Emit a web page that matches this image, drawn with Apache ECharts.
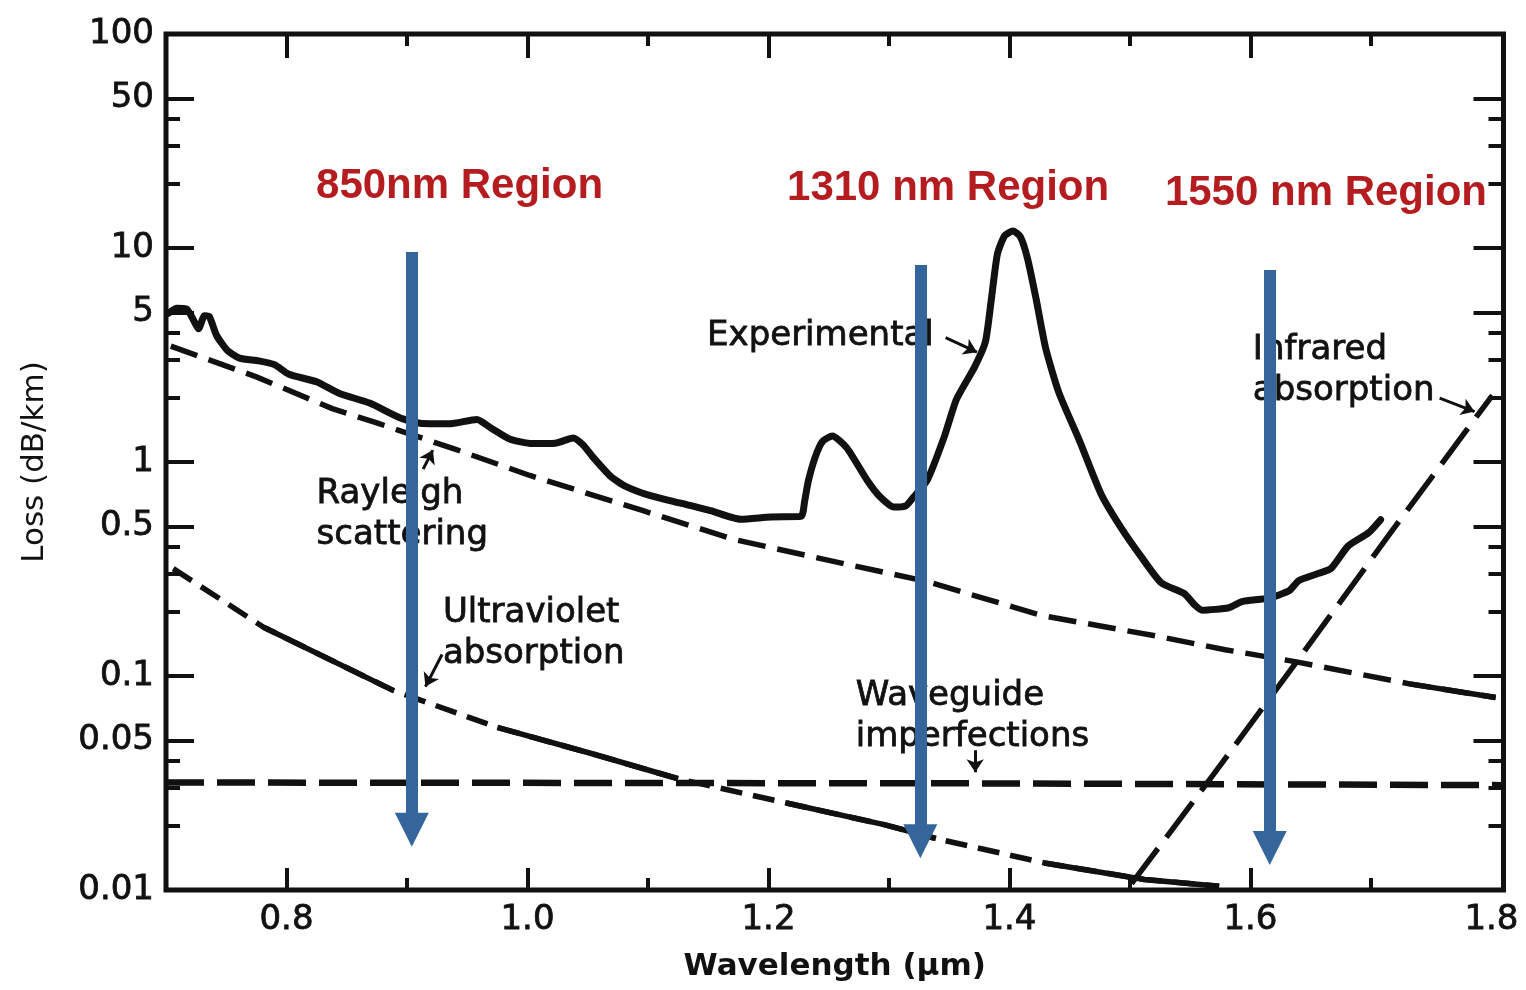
<!DOCTYPE html>
<html>
<head>
<meta charset="utf-8">
<script src="https://cdn.jsdelivr.net/npm/echarts@6/dist/echarts.min.js"></script>
<style>html,body{margin:0;padding:0;background:#fff}#chart{width:1526px;height:990px}</style>
</head>
<body>
<div id="chart"></div>
<script>
// ---- data (wavelength in µm, loss in dB/km) ----
const expWavelength = [0.702,0.709,0.717,0.724,0.727,0.732,0.736,0.742,0.751,0.761,0.777,0.790,0.802,0.825,0.844,0.869,0.894,0.911,0.935,0.958,0.970,0.985,1.004,1.023,1.038,1.046,1.054,1.069,1.081,1.102,1.127,1.152,1.177,1.202,1.227,1.230,1.233,1.239,1.245,1.253,1.265,1.282,1.293,1.304,1.314,1.320,1.332,1.346,1.356,1.371,1.380,1.385,1.390,1.396,1.403,1.409,1.415,1.422,1.430,1.441,1.458,1.476,1.492,1.509,1.526,1.545,1.554,1.560,1.582,1.593,1.615,1.632,1.640,1.656,1.667,1.681,1.698,1.708];
const expLoss = [4.95,5.23,5.19,4.47,4.19,4.83,4.78,3.90,3.32,3.06,2.97,2.85,2.57,2.37,2.09,1.885,1.61,1.517,1.508,1.58,1.438,1.282,1.22,1.224,1.295,1.203,1.06,0.857,0.772,0.696,0.642,0.592,0.540,0.554,0.557,0.655,0.812,1.063,1.251,1.322,1.165,0.820,0.684,0.616,0.624,0.681,0.828,1.317,1.963,2.776,3.64,5.78,9.38,11.4,12.0,11.3,8.93,5.82,3.41,2.11,1.262,0.709,0.499,0.363,0.2725,0.243,0.214,0.203,0.2085,0.2227,0.231,0.25,0.279,0.301,0.3186,0.4046,0.4667,0.5375];

const rayleighWavelength = [0.704,0.775,0.838,0.875,0.941,1.002,1.096,1.171,1.252,1.331,1.427,1.521,1.579,1.637,1.732,1.8035];
const rayleighLoss = [3.48,2.50,1.776,1.522,1.142,0.865,0.592,0.435,0.345,0.277,0.1916,0.154,0.1327,0.1167,0.0919,0.0793];

const uvWavelength = [0.706,0.781,0.888,0.899,0.975,1.0545,1.125,1.215,1.296,1.339,1.429,1.512,1.574];
const uvLoss = [0.3175,0.169,0.0859,0.0816,0.0575,0.0432,0.0331,0.0255,0.0202,0.0174,0.01338,0.0112,0.0104];

const waveguideWavelength = [0.70,1.37,1.81];
const waveguideLoss = [0.0318,0.0315,0.0309];

const irWavelength = [1.5013,1.5692,1.6372,1.7165,1.8008];
const irLoss = [0.0107,0.0346,0.1142,0.4686,2.05];

const xTickLabels = [0.8,1.0,1.2,1.4,1.6,1.8];
const xMajorTicks = [0.8,1.0,1.2,1.4,1.6];
const xMinorTicks = [0.9,1.1,1.3,1.5,1.7];
const yTickLabels = [0.01,0.05,0.1,0.5,1,5,10,50,100];
const yMinorTicks = [0.02,0.03,0.04,0.2,0.3,0.4,2,3,4,20,30,40];

const regionNames = ['850nm Region','1310 nm Region','1550 nm Region'];
const regionArrowX = [0.904,1.326,1.616];
const regionArrowTop = [9.58,8.33,7.89];
const regionArrowEnd = [0.0191,0.0169,0.0157];

// ---- helpers ----
const zip = (xs, ys) => xs.map((x, i) => [x, ys[i]]);
const INK = '#111';
const FONT = 'DejaVu Sans';
const uvSolidSpans = [[1,2],[4,6],[7,9],[10,12]];
const rayleighSolidFrom = 14;

const xBase = {
  type: 'value', min: 0.7, max: 1.81,
  axisLine: {show: false}, splitLine: {show: false}, axisLabel: {show: false}
};
const tickStyle = {color: INK, width: 4};
const yBase = {
  type: 'log', logBase: 10, min: 0.01, max: 100,
  axisLine: {show: false}, splitLine: {show: false}, axisLabel: {show: false}
};

const lineSeries = (name, data, style, extra) => Object.assign({
  name, type: 'line', data, symbol: 'none', showSymbol: false, silent: true,
  xAxisIndex: 0, yAxisIndex: 0,
  lineStyle: Object.assign({color: INK, cap: 'butt', join: 'round', opacity: 1}, style)
}, extra || {});

const series = [];
series.push(lineSeries('Experimental', zip(expWavelength, expLoss), {width: 7, cap: 'round'}, {smooth: 0.2, z: 5}));
series.push(lineSeries('Rayleigh scattering', zip(rayleighWavelength, rayleighLoss), {width: 5.5, type: [28, 12]}));
series.push(lineSeries('Rayleigh tail', zip(rayleighWavelength, rayleighLoss).slice(rayleighSolidFrom), {width: 5.5}));
series.push(lineSeries('Ultraviolet absorption', zip(uvWavelength, uvLoss), {width: 5.5, type: [22, 11]}));
uvSolidSpans.forEach((s, k) => {
  series.push(lineSeries('UV solid ' + k, zip(uvWavelength, uvLoss).slice(s[0], s[1] + 1), {width: 5.5}));
});
series.push(lineSeries('Waveguide imperfections', zip(waveguideWavelength, waveguideLoss), {width: 6.5, type: [38, 13]}));
series.push(lineSeries('Infrared absorption', zip(irWavelength, irLoss), {width: 5.5, type: [44, 14]}));

// small black pointer arrows of the annotations
series.push({
  type: 'lines', coordinateSystem: 'cartesian2d', xAxisIndex: 0, yAxisIndex: 0, silent: true, z: 6,
  symbol: ['none', 'arrow'], symbolSize: 13,
  lineStyle: {color: INK, width: 3, opacity: 1},
  data: [
    {coords: [[1.347, 3.81], [1.373, 3.26]]},
    {coords: [[1.757, 1.99], [1.786, 1.72]]},
    {coords: [[0.9134, 0.926], [0.9215, 1.137]]},
    {coords: [[0.9291, 0.126], [0.9153, 0.0892]]},
    {coords: [[1.3715, 0.045], [1.3716, 0.0355]]}
  ]
});

// annotation texts
const annoLabel = {
  show: true, position: 'inside', align: 'left', verticalAlign: 'middle',
  fontFamily: FONT, fontSize: 34, lineHeight: 41, color: INK,
  textBorderColor: INK, textBorderWidth: 0.8
};
series.push({
  type: 'scatter', xAxisIndex: 0, yAxisIndex: 0, silent: true, z: 7,
  symbolSize: 1, itemStyle: {color: 'rgba(0,0,0,0)', opacity: 1},
  label: annoLabel,
  data: [
    {value: [1.149, 3.87], label: {formatter: 'Experimental'}},
    {value: [1.602, 2.665], label: {formatter: 'Infrared\nabsorption'}},
    {value: [0.825, 0.5675], label: {formatter: 'Rayleigh\nscattering'}},
    {value: [0.9298, 0.158], label: {formatter: 'Ultraviolet\nabsorption'}},
    {value: [1.2724, 0.0649], label: {formatter: 'Waveguide\nimperfections'}}
  ]
});

// red region titles
const regionAnchors = [[0.8245, 19.3], [1.2154, 19.07], [1.529, 18.07]];
series.push({
  type: 'scatter', xAxisIndex: 0, yAxisIndex: 0, silent: true, z: 8,
  symbolSize: 1, itemStyle: {color: 'rgba(0,0,0,0)', opacity: 1},
  label: {
    show: true, position: 'inside', align: 'left', verticalAlign: 'middle',
    fontFamily: 'Liberation Sans', fontWeight: 'bold', fontSize: 42, color: '#b41c1f',
    textBorderWidth: 0
  },
  data: regionNames.map((t, i) => ({value: regionAnchors[i], label: {formatter: t}}))
});

// blue region arrows
series.push({
  type: 'lines', coordinateSystem: 'cartesian2d', xAxisIndex: 0, yAxisIndex: 0, silent: true, z: 20,
  symbol: ['none', 'triangle'], symbolSize: [36, 34],
  lineStyle: {color: '#35669b', width: 12, opacity: 1, cap: 'butt'},
  itemStyle: {color: '#35669b'},
  data: regionArrowX.map((x, i) => ({coords: [[x, regionArrowTop[i]], [x, regionArrowEnd[i]]]}))
});

const tickLabelStyle = {fontFamily: FONT, fontSize: 34, color: INK, textBorderColor: INK, textBorderWidth: 0.8};

const option = {
  animation: false,
  backgroundColor: '#fff',
  grid: {
    left: 166, right: 22.5, top: 34, bottom: 100,
    show: true, borderColor: INK, borderWidth: 5, backgroundColor: 'transparent',
    containLabel: false, outerBoundsMode: 'none'
  },
  xAxis: [
    Object.assign({}, xBase, {
      position: 'bottom',
      axisTick: {show: true, inside: true, length: 22, customValues: xMajorTicks, lineStyle: tickStyle},
      axisLabel: Object.assign({show: true, customValues: xTickLabels, formatter: v => Number(v).toFixed(1),
        margin: 13}, tickLabelStyle),
      name: 'Wavelength (µm)', nameLocation: 'middle', nameGap: 61,
      nameTextStyle: {fontFamily: FONT, fontSize: 31, fontWeight: 'bold', color: INK}
    }),
    Object.assign({}, xBase, {
      position: 'bottom',
      axisTick: {show: true, inside: true, length: 12, customValues: xMinorTicks, lineStyle: tickStyle}
    }),
    Object.assign({}, xBase, {
      position: 'top',
      axisTick: {show: true, inside: true, length: 24, customValues: xMajorTicks, lineStyle: tickStyle}
    }),
    Object.assign({}, xBase, {
      position: 'top',
      axisTick: {show: true, inside: true, length: 12, customValues: xMinorTicks, lineStyle: tickStyle}
    })
  ],
  yAxis: [
    Object.assign({}, yBase, {
      position: 'left',
      axisTick: {show: true, inside: true, length: 28, customValues: yTickLabels, lineStyle: tickStyle},
      axisLabel: Object.assign({show: true, customValues: yTickLabels,
        formatter: v => String(parseFloat(Number(v).toPrecision(3))), margin: 12}, tickLabelStyle),
      name: 'Loss (dB/km)', nameLocation: 'middle', nameGap: 116, nameRotate: 90,
      nameTextStyle: {fontFamily: FONT, fontSize: 31, color: INK}
    }),
    Object.assign({}, yBase, {
      position: 'left',
      axisTick: {show: true, inside: true, length: 14, customValues: yMinorTicks, lineStyle: tickStyle}
    }),
    Object.assign({}, yBase, {
      position: 'right',
      axisTick: {show: true, inside: true, length: 30, customValues: yTickLabels, lineStyle: tickStyle}
    }),
    Object.assign({}, yBase, {
      position: 'right',
      axisTick: {show: true, inside: true, length: 15, customValues: yMinorTicks, lineStyle: tickStyle}
    })
  ],
  series
};

const chart = echarts.init(document.getElementById('chart'), null, {renderer: 'canvas'});
chart.setOption(option);
</script>
</body>
</html>
